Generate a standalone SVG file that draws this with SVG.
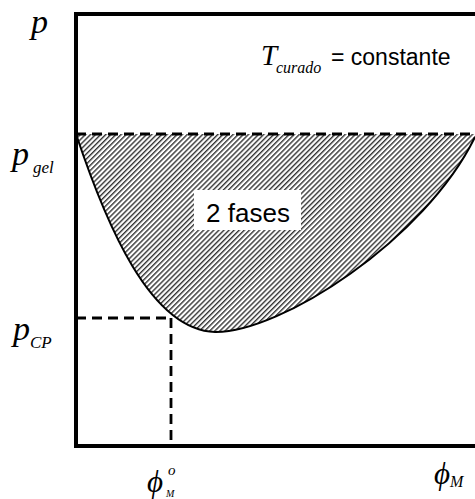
<svg xmlns="http://www.w3.org/2000/svg" width="475" height="499" viewBox="0 0 475 499">
<defs>
<pattern id="hatch" width="3.6" height="3.6" patternUnits="userSpaceOnUse" patternTransform="rotate(-45)">
<rect x="0" y="0" width="3.6" height="1.4" fill="#333"/>
</pattern>
<style>
.frame{fill:none;stroke:#000;stroke-width:4}
.dash{fill:none;stroke:#000;stroke-width:2.8;stroke-dasharray:10 6}
.curve{fill:none;stroke:#000;stroke-width:2}
.it{font-family:"Liberation Serif","Times New Roman",serif;font-style:italic;fill:#000}
.sans{font-family:"Liberation Sans",Arial,sans-serif;fill:#000}
</style>
</defs>
<rect width="475" height="499" fill="#fff"/>
<g id="region-2fases">
<path d="M76,134 C106,224 150,330 215,332 C280,333 425,240 475,137 L475,134 Z" fill="url(#hatch)"/>
<rect x="194" y="190" width="107" height="40" fill="#fff"/>
<text class="sans" x="248" y="222" font-size="26" text-anchor="middle">2 fases</text>
</g>
<g id="connectors">
<path class="curve" d="M76,134 C106,224 150,330 215,332 C280,333 425,240 475,137"/>
<line class="dash" x1="76" y1="134" x2="475" y2="134"/>
<line class="dash" x1="76" y1="318" x2="171" y2="318"/>
<line class="dash" x1="171" y1="318" x2="171" y2="446"/>
</g>
<g id="axes">
<path class="frame" d="M475,14 H76 V446 H475"/>
</g>
<g id="labels">
<text class="it" x="31" y="33" font-size="34">p</text>
<text class="it" x="12" y="165" font-size="34">p<tspan font-size="17" dx="4" dy="8">gel</tspan></text>
<text class="it" x="13" y="340" font-size="34">p<tspan font-size="17" dy="8">CP</tspan></text>
<text class="it" x="261" y="65" font-size="29">T</text>
<text class="it" x="276" y="73" font-size="16">curado</text>
<text class="sans" x="331" y="65" font-size="23">= constante</text>
<text class="it" x="147" y="492" font-size="31">ϕ</text>
<text class="it" x="168" y="475" font-size="15">o</text>
<text class="it" x="166" y="497" font-size="10">M</text>
<text class="it" x="434" y="484" font-size="31">ϕ<tspan font-size="16" dy="3">M</tspan></text>
</g>
</svg>
